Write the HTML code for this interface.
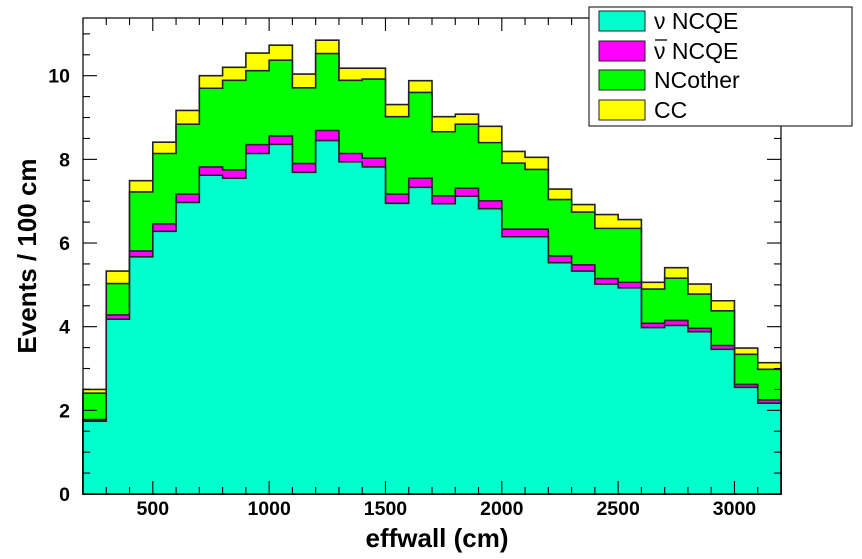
<!DOCTYPE html>
<html><head><meta charset="utf-8"><style>
body{margin:0;background:#fff;}
svg text{font-family:"Liberation Sans",Arial,sans-serif;font-weight:bold;fill:#000;}
</style></head><body>
<svg id="chart" width="862" height="554" xmlns="http://www.w3.org/2000/svg">
<g id="layers"></g>
<g id="axes"></g>
<text x="437" y="547" font-size="26" text-anchor="middle">effwall (cm)</text>
<text transform="translate(36,256) rotate(-90)" font-size="26" text-anchor="middle">Events / 100 cm</text>
<g>
<rect x="589" y="7" width="263" height="119" fill="#fff" stroke="#000" stroke-width="1"/>
<g><rect x="599" y="11" width="46" height="20" fill="#00ffcc" stroke="#222"/><text x="654" y="29" font-size="23" style="font-weight:normal">ν NCQE</text></g>
<g><rect x="599" y="41" width="46" height="20" fill="#ff00ff" stroke="#222"/><text x="654" y="59" font-size="23" style="font-weight:normal">ν NCQE</text><line x1="655" y1="40" x2="667" y2="40" stroke="#000" stroke-width="1.3"/></g>
<g><rect x="599" y="70" width="46" height="20" fill="#00ff00" stroke="#222"/><text x="654" y="88" font-size="23" style="font-weight:normal">NCother</text></g>
<g><rect x="599" y="100" width="46" height="20" fill="#ffff00" stroke="#222"/><text x="654" y="118" font-size="23" style="font-weight:normal">CC</text></g>
</g>
</svg>
<script>
const binLow = [200,300,400,500,600,700,800,900,1000,1100,1200,1300,1400,1500,1600,1700,1800,1900,2000,2100,2200,2300,2400,2500,2600,2700,2800,2900,3000,3100];
const nuNCQE = [1.74,4.18,5.67,6.28,6.97,7.62,7.55,8.14,8.36,7.69,8.45,7.94,7.82,6.95,7.33,6.94,7.12,6.82,6.15,6.15,5.53,5.33,5.02,4.93,3.98,4.03,3.88,3.46,2.55,2.17];
const nubarNCQE = [.04,.10,.14,.18,.20,.20,.20,.21,.20,.21,.24,.20,.21,.22,.22,.19,.19,.19,.18,.18,.16,.15,.13,.13,.10,.12,.08,.09,.07,.08];
const ncOther = [.63,.75,1.41,1.68,1.67,1.88,2.14,1.77,1.81,1.81,1.84,1.75,1.89,1.85,2.05,1.53,1.53,1.39,1.58,1.43,1.35,1.26,1.20,1.29,.82,1.01,.82,.83,.72,.73];
const ccVals = [.09,.30,.27,.27,.33,.30,.31,.42,.36,.33,.32,.29,.26,.29,.28,.36,.24,.39,.28,.29,.25,.18,.33,.21,.16,.25,.24,.24,.15,.16];
const xTicks = [500,1000,1500,2000,2500,3000];
const yTicks = [0,2,4,6,8,10];
const binWidth = 100;

const L=83,R=781,T=18,B=494, XMIN=200,XMAX=3200,YMIN=0,YMAX=(494-18)/41.83;
const X=v=>L+(v-XMIN)*(R-L)/(XMAX-XMIN);
const Y=v=>B-(v-YMIN)*(B-T)/(YMAX-YMIN);
const NS="http://www.w3.org/2000/svg";
function mk(tag,attrs,parent){const e=document.createElementNS(NS,tag);for(const k in attrs)e.setAttribute(k,attrs[k]);parent.appendChild(e);return e;}

const series=[nuNCQE,nubarNCQE,ncOther,ccVals];
const colors=["#00ffcc","#ff00ff","#00ff00","#ffff00"];
const names=["nu-ncqe","nubar-ncqe","ncother","cc"];
const cum=[];
for(let s=0;s<series.length;s++){cum.push(series[s].map((v,i)=>v+(s?cum[s-1][i]:0)));}
const layers=document.getElementById('layers');
for(let s=series.length-1;s>=0;s--){
  let d="M"+X(binLow[0])+","+Y(0);
  for(let i=0;i<binLow.length;i++){
    d+=" L"+X(binLow[i])+","+Y(cum[s][i])+" L"+X(binLow[i]+binWidth)+","+Y(cum[s][i]);
  }
  d+=" L"+X(binLow[binLow.length-1]+binWidth)+","+Y(0)+" Z";
  const p=mk('path',{d:d,fill:colors[s],stroke:"#222","stroke-width":1.6,"stroke-linejoin":"miter"},layers);
  
  
}
const ax=document.getElementById('axes');
mk('rect',{x:L,y:T,width:R-L,height:B-T,fill:"none",stroke:"#000","stroke-width":1.2},ax);
for(let v=XMIN;v<=XMAX;v+=100){
  const major=v%500===0, len=major?13:7, x=X(v);
  mk('line',{x1:x,y1:B,x2:x,y2:B-len,stroke:"#000","stroke-width":1.1},ax);
  mk('line',{x1:x,y1:T,x2:x,y2:T+len,stroke:"#000","stroke-width":1.1},ax);
}
xTicks.forEach(v=>{const t=mk('text',{x:X(v),y:515,"font-size":19.5,"text-anchor":"middle"},ax);t.textContent=v;

});
for(let v=0;v<=YMAX;v+=0.5){
  const major=Math.abs(v%2)<1e-9, len=major?14:7, y=Y(v);
  mk('line',{x1:L,y1:y,x2:L+len,y2:y,stroke:"#000","stroke-width":1.1},ax);
  mk('line',{x1:R,y1:y,x2:R-len,y2:y,stroke:"#000","stroke-width":1.1},ax);
}
yTicks.forEach(v=>{const t=mk('text',{x:70,y:Y(v)+7,"font-size":19.5,"text-anchor":"end"},ax);t.textContent=v;

});
</script>
</body></html>
